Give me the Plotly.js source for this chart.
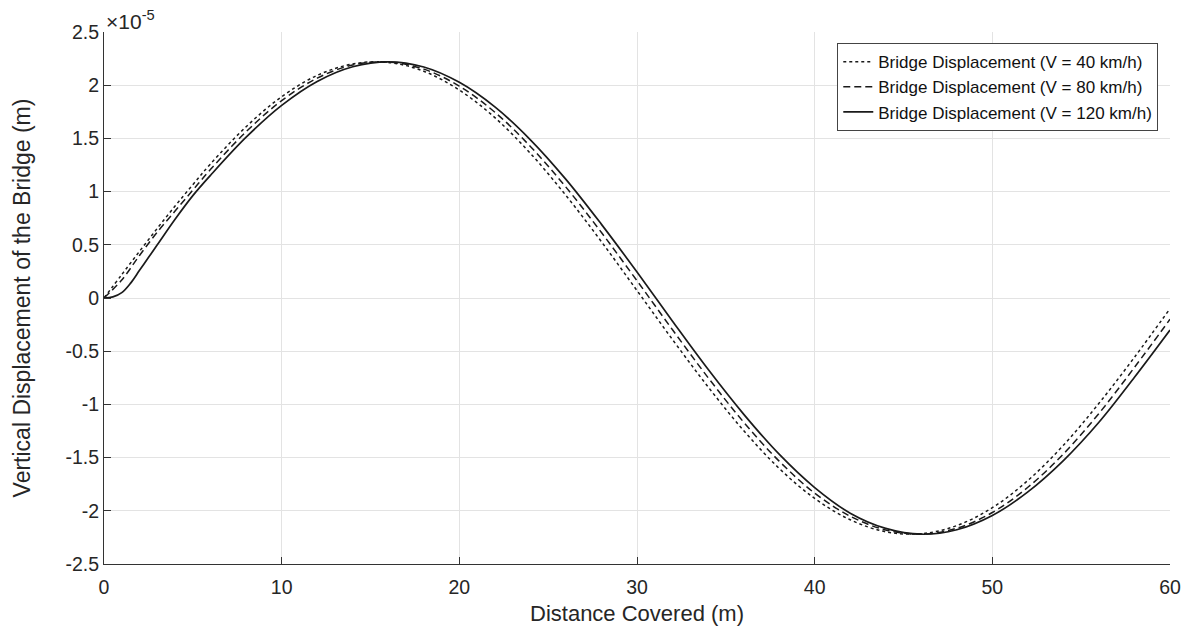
<!DOCTYPE html>
<html>
<head>
<meta charset="utf-8">
<script src="https://cdn.plot.ly/plotly-3.0.1.min.js"></script>
<style>html,body{margin:0;padding:0;background:#fff;}#chart{width:1191px;height:630px;}</style>
</head>
<body>
<div id="chart"></div>
<script>
// Distance covered (m) and vertical displacement (in units of 1e-5 m)
const x40 = [0, 1, 2, 3, 4, 5, 6, 8, 10, 12, 14, 16, 18, 20, 22, 24, 26, 28, 30, 32, 34, 36, 38, 40, 42, 44, 46, 48, 50, 52, 54, 56, 58, 60];
const disp40 = [0, 0.220, 0.439, 0.655, 0.864, 1.065, 1.261, 1.610, 1.892, 2.092, 2.200, 2.214, 2.131, 1.954, 1.695, 1.359, 0.964, 0.529, 0.070, -0.391, -0.835, -1.245, -1.601, -1.884, -2.084, -2.197, -2.215, -2.139, -1.971, -1.715, -1.384, -0.990, -0.557, -0.100];

const x80 = [0, 1, 2, 3, 4, 5, 6, 8, 10, 12, 14, 16, 18, 20, 22, 24, 26, 28, 30, 32, 34, 36, 38, 40, 42, 44, 46, 48, 50, 52, 54, 56, 58, 60];
const disp80 = [0, 0.170, 0.400, 0.619, 0.817, 1.014, 1.209, 1.563, 1.855, 2.066, 2.190, 2.218, 2.151, 1.991, 1.746, 1.424, 1.042, 0.615, 0.162, -0.299, -0.748, -1.166, -1.533, -1.834, -2.051, -2.180, -2.219, -2.164, -2.016, -1.779, -1.466, -1.085, -0.652, -0.200];

const x120 = [0, 0.5, 1, 1.5, 2, 2.5, 3, 4, 5, 6, 8, 10, 12, 14, 16, 18, 20, 22, 24, 26, 28, 30, 32, 34, 36, 38, 40, 42, 44, 46, 48, 50, 52, 54, 56, 58, 60];
const disp120 = [0, 0.010, 0.050, 0.140, 0.260, 0.380, 0.500, 0.740, 0.962, 1.154, 1.511, 1.810, 2.035, 2.173, 2.220, 2.171, 2.027, 1.796, 1.487, 1.115, 0.692, 0.244, -0.218, -0.670, -1.091, -1.468, -1.782, -2.022, -2.165, -2.220, -2.178, -2.044, -1.822, -1.528, -1.168, -0.745, -0.301];

const seriesNames = ['Bridge Displacement (V = 40 km/h)', 'Bridge Displacement (V = 80 km/h)', 'Bridge Displacement (V = 120 km/h)'];
const xTicks = [0, 10, 20, 30, 40, 50, 60];
const yTicks = [-2.5, -2, -1.5, -1, -0.5, 0, 0.5, 1, 1.5, 2, 2.5];
const yTickText = ['-2.5', '-2', '-1.5', '-1', '-0.5', '0', '0.5', '1', '1.5', '2', '2.5'];

const FONT = 'Liberation Sans, Arial, sans-serif';
const traces = [
  {x: x40, y: disp40, name: seriesNames[0], mode: 'lines', line: {color: '#1a1a1a', width: 1.5, dash: 'dot', shape: 'spline'}},
  {x: x80, y: disp80, name: seriesNames[1], mode: 'lines', line: {color: '#1a1a1a', width: 1.5, dash: '7px,4px', shape: 'spline'}},
  {x: x120, y: disp120, name: seriesNames[2], mode: 'lines', line: {color: '#1a1a1a', width: 1.7, shape: 'spline'}}
];

const layout = {
  width: 1191, height: 630,
  margin: {l: 104, r: 21, t: 32, b: 66},
  paper_bgcolor: '#fff', plot_bgcolor: '#fff',
  font: {family: FONT, color: '#262626', size: 18},
  showlegend: true,
  legend: {
    x: 0.989, y: 0.979, xanchor: 'right', yanchor: 'top',
    bgcolor: '#fff', bordercolor: '#444', borderwidth: 1,
    font: {family: FONT, size: 17, color: '#111'},
    tracegroupgap: 0
  },
  xaxis: {
    range: [0, 60], tickvals: xTicks, ticktext: xTicks.map(String),
    showgrid: true, gridcolor: '#e3e3e3', gridwidth: 1,
    zeroline: false, showline: true, linecolor: '#333', linewidth: 1,
    ticks: 'inside', ticklen: 7, tickcolor: '#333',
    ticklabelstandoff: 6,
    tickfont: {family: FONT, size: 19.5, color: '#262626'},
    title: {text: 'Distance Covered (m)', font: {family: FONT, size: 22, color: '#262626'}, standoff: 8}
  },
  yaxis: {
    range: [-2.5, 2.5], tickvals: yTicks, ticktext: yTickText,
    showgrid: true, gridcolor: '#e3e3e3', gridwidth: 1,
    zeroline: false, showline: true, linecolor: '#333', linewidth: 1,
    ticks: 'inside', ticklen: 7, tickcolor: '#333',
    tickfont: {family: FONT, size: 19.5, color: '#262626'},
    title: {text: 'Vertical Displacement of the Bridge (m)', font: {family: FONT, size: 23, color: '#262626'}, standoff: 28}
  },
  annotations: [{
    xref: 'paper', yref: 'paper', x: 0, y: 1, xanchor: 'left', yanchor: 'bottom',
    xshift: 0, yshift: -3, showarrow: false,
    text: '×10<sup>-5</sup>', font: {family: FONT, size: 21, color: '#262626'}
  }]
};

Plotly.newPlot('chart', traces, layout, {displayModeBar: false, staticPlot: true});
</script>
</body>
</html>
